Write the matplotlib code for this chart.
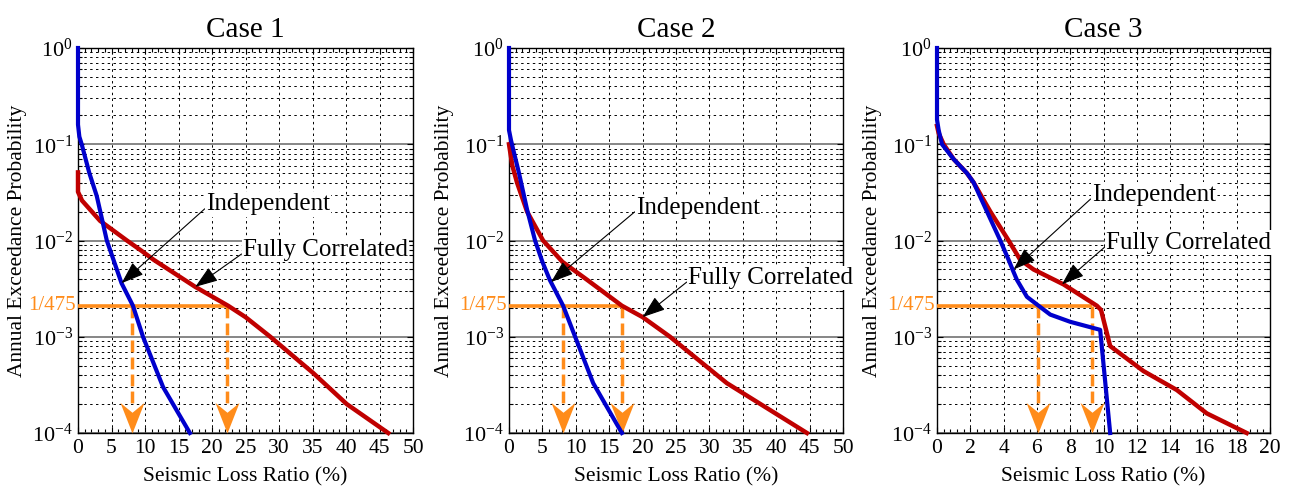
import numpy as np
import matplotlib
matplotlib.use('Agg')
import matplotlib.pyplot as plt
from matplotlib.path import Path
from matplotlib.ticker import MultipleLocator, LogLocator, FixedLocator, FixedFormatter, NullFormatter
from matplotlib.transforms import blended_transform_factory

plt.rcParams['font.family'] = ['Liberation Serif', 'DejaVu Serif']
plt.rcParams['mathtext.fontset'] = 'custom'
plt.rcParams['mathtext.rm'] = 'Liberation Serif'
plt.rcParams['mathtext.it'] = 'Liberation Serif:italic'
plt.rcParams['mathtext.bf'] = 'Liberation Serif:bold'

# ---------------- data ----------------
titles = ['Case 1', 'Case 2', 'Case 3']
x_max = [50, 50, 20]
x_major_step = [5, 5, 2]
x_minor_step = [1, 1, 0.4]

y_ticks = [1e-4, 1e-3, 1e-2, 1e-1, 1e0]
y_tick_labels = [r'$\mathregular{10^{-4}}$', r'$\mathregular{10^{-3}}$',
                 r'$\mathregular{10^{-2}}$', r'$\mathregular{10^{-1}}$',
                 r'$\mathregular{10^{0}}$']

p_475 = 1.0 / 475
p_475_label = '1/475'

# Case 1
case1_indep_x = [0, 0, 0.2, 0.55, 1.7, 2.8, 4.3, 6.5, 8.2, 9.7, 12.7, 16.7]
case1_indep_p = [1.0, 0.16, 0.12, 0.1, 0.05, 0.029, 0.01, 0.0036, 0.0021, 0.001, 0.0003, 0.0001]
case1_corr_x = [0, 0, 0.6, 3.3, 7.3, 9.5, 11.3, 17.5, 22.4, 25.0, 28.7, 35.1, 40.1, 46.3]
case1_corr_p = [0.051, 0.032, 0.026, 0.016, 0.01, 0.0078, 0.0063, 0.0033, 0.0021, 0.0016,
                0.001, 0.00042, 0.0002, 0.0001]
case1_loss_475 = [8.0, 22.2]

# Case 2
case2_indep_x = [0, 0, 0.3, 0.6, 1.5, 2.7, 3.9, 5.0, 6.1, 8.1, 9.9, 12.6, 16.9]
case2_indep_p = [1.0, 0.14, 0.11, 0.09, 0.05, 0.021, 0.01, 0.006, 0.0039, 0.0021, 0.001,
                 0.00033, 0.0001]
case2_corr_x = [0, 0.5, 1.2, 2.7, 5.1, 8.0, 11.7, 16.9, 20.0, 24.1, 32.6, 44.6]
case2_corr_p = [0.1, 0.06, 0.04, 0.02, 0.01, 0.006, 0.0039, 0.0021, 0.0016, 0.001,
                0.00033, 0.0001]
case2_loss_475 = [8.1, 16.9]

# Case 3
case3_indep_x = [0, 0, 0.1, 0.3, 1.0, 1.8, 2.2, 3.0, 3.8, 4.3, 4.6, 4.8, 5.4, 6.1, 6.8,
                 8.0, 9.8, 10.4]
case3_indep_p = [1.0, 0.18, 0.14, 0.1, 0.07, 0.05, 0.04, 0.02, 0.01, 0.0063, 0.0047,
                 0.0039, 0.0026, 0.0021, 0.0017, 0.00143, 0.00118, 0.0001]
case3_corr_x = [0, 0.1, 0.4, 1.0, 1.8, 2.2, 3.2, 4.3, 5.0, 5.8, 7.6, 9.6, 9.85, 10.4,
                12.4, 14.4, 16.2, 18.6]
case3_corr_p = [0.155, 0.13, 0.1, 0.07, 0.05, 0.04, 0.02, 0.01, 0.0063, 0.005, 0.0035,
                0.0021, 0.0019, 0.0008, 0.00044, 0.00028, 0.00016, 0.0001]
case3_loss_475 = [6.07, 9.3]

indep_x = [case1_indep_x, case2_indep_x, case3_indep_x]
indep_p = [case1_indep_p, case2_indep_p, case3_indep_p]
corr_x = [case1_corr_x, case2_corr_x, case3_corr_x]
corr_p = [case1_corr_p, case2_corr_p, case3_corr_p]
loss_475 = [case1_loss_475, case2_loss_475, case3_loss_475]

# annotation placement: (tip x, tip p, text x, text p)
ann_indep = [(6.5, 0.0036, 19.1, 0.0237), (6.3, 0.0037, 19.0, 0.022), (4.6, 0.005, 9.3, 0.030)]
ann_corr = [(17.5, 0.0033, 24.6, 0.0080), (20.0, 0.0016, 26.8, 0.0041), (7.5, 0.0035, 10.15, 0.0095)]

# ---------------- style ----------------
BLUE = '#0000CC'
RED = '#C00000'
ORANGE = '#FF8C1A'
W, H = 1292, 488
axes_px = [(78, 413), (509, 843), (937, 1270)]
top_px, bot_px = 48, 433

fig = plt.figure(figsize=(W / 100, H / 100), dpi=100)

arrow_head = Path([(0, 0), (-11, 28), (0, 19), (11, 28), (0, 0)],
                  [Path.MOVETO, Path.LINETO, Path.LINETO, Path.LINETO, Path.CLOSEPOLY])

for i in range(3):
    l, r = axes_px[i]
    ax = fig.add_axes([l / W, (H - bot_px) / H, (r - l) / W, (bot_px - top_px) / H])
    ax.set_yscale('log')
    ax.set_xlim(0, x_max[i])
    ax.set_ylim(1e-4, 1)

    ax.xaxis.set_major_locator(MultipleLocator(x_major_step[i]))
    ax.xaxis.set_minor_locator(MultipleLocator(x_minor_step[i]))
    ax.yaxis.set_major_locator(FixedLocator(y_ticks))
    ax.yaxis.set_major_formatter(FixedFormatter(y_tick_labels))
    ax.yaxis.set_minor_locator(LogLocator(base=10, subs=np.arange(2, 10)))
    ax.yaxis.set_minor_formatter(NullFormatter())

    ax.tick_params(which='both', direction='in', top=True, right=True)
    ax.tick_params(which='major', length=4, width=0.8)
    ax.tick_params(which='minor', length=3, width=0.8)
    ax.tick_params(axis='y', pad=3.6, labelsize=16)
    ax.tick_params(axis='x', pad=4, labelsize=15.5)

    ax.grid(True, axis='x', which='major', color='k', linestyle=(0, (2.5, 3.5)), linewidth=0.7)
    ax.grid(True, axis='y', which='minor', color='k', linestyle=(0, (2.5, 3.5)), linewidth=0.7)
    ax.grid(True, axis='y', which='major', color='#666666', linestyle='-', linewidth=1.1)
    ax.set_axisbelow(True)
    for s in ax.spines.values():
        s.set_linewidth(1.0)

    ax.set_title(titles[i], fontsize=21, pad=8)
    ax.set_xlabel('Seismic Loss Ratio (%)', fontsize=15.5, labelpad=7)
    ax.set_ylabel('Annual Exceedance Probability', fontsize=15.5)
    ax.yaxis.set_label_coords(-0.152 if i == 0 else -0.165, 0.5)

    # 1/475 threshold
    xi, xc = loss_475[i]
    ax.plot([0, xc], [p_475, p_475], color=ORANGE, lw=2.6, solid_capstyle='butt', zorder=3)
    for xv in (xi, xc):
        ax.plot([xv, xv], [p_475, 1.9e-4], color=ORANGE, lw=2.5,
                linestyle=(0, (3.4, 1.5)), zorder=3)
        ax.plot([xv], [1e-4], marker=arrow_head, markersize=44, color=ORANGE,
                markeredgewidth=0, linestyle='none', zorder=4, clip_on=False)
    tr = blended_transform_factory(ax.transAxes, ax.transData)
    ax.text(-0.008, p_475, p_475_label, transform=tr, ha='right', va='center',
            color=ORANGE, fontsize=15)

    # curves
    ax.plot(corr_x[i], corr_p[i], color=RED, lw=3.2, zorder=5, clip_on=False,
            solid_joinstyle='round')
    ax.plot(indep_x[i], indep_p[i], color=BLUE, lw=3.0, zorder=6, clip_on=False,
            solid_joinstyle='round')

    arrowprops = dict(arrowstyle='-|>,head_length=1.4,head_width=0.5', color='k',
                      lw=0.8, mutation_scale=10, shrinkA=0, shrinkB=0, relpos=(0, 0.35))
    bbox = dict(boxstyle='square,pad=0.05', fc='white', ec='none')
    for (tx, tp, sx, sp), label in ((ann_indep[i], 'Independent'),
                                    (ann_corr[i], 'Fully Correlated')):
        ax.annotate(label, xy=(tx, tp), xytext=(sx, sp), fontsize=18,
                    ha='left', va='center', bbox=bbox, arrowprops=arrowprops,
                    zorder=8, annotation_clip=False)

fig.savefig('out.png', dpi=100)
